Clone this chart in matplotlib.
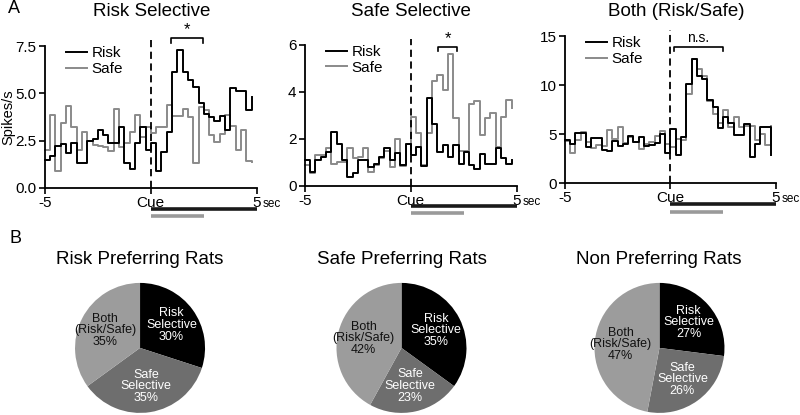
import numpy as np
import matplotlib
matplotlib.use('Agg')
import matplotlib.pyplot as plt

plt.rcParams['font.family'] = ['Liberation Sans', 'DejaVu Sans']
plt.rcParams['axes.unicode_minus'] = False

# PSTH bins: 0.25 s, left edges from -5 s to 4.75 s
bin_width = 0.25
t_start = -5
n_bins = 40
bin_left = t_start + bin_width * np.arange(n_bins)

# A - Risk selective neuron (spikes/s)
risk_sel_risk = [1.5, 1.7, 2.2, 2.3, 1.85, 2.4, 1.3, 1.3, 2.5, 2.6, 3.05, 2.8, 2.4, 2.4, 3.2, 1.3, 1.0, 2.4, 3.2, 2.0,
                 2.4, 0.9, 1.9, 2.95, 6.15, 7.3, 6.15, 5.7, 5.35, 4.5, 3.9, 3.75, 3.55, 3.8, 3.05, 5.3, 5.1, 5.1, 4.1, 4.8]
risk_sel_safe = [2.0, 3.85, 0.9, 3.45, 4.35, 3.2, 2.0, 2.95, 2.5, 2.25, 2.2, 2.15, 1.95, 4.2, 2.15, 2.4, 2.95, 3.85, 2.7, 3.2,
                 2.9, 3.2, 3.2, 4.4, 3.8, 3.8, 4.2, 3.75, 1.3, 4.3, 4.1, 2.8, 2.45, 2.85, 3.85, 3.25, 2.0, 3.05, 1.45, 1.35]

# Safe selective neuron
safe_sel_risk = [1.1, 0.6, 1.1, 1.25, 1.45, 2.3, 1.8, 1.1, 0.4, 0.55, 1.1, 1.1, 0.8, 0.95, 1.25, 1.6, 1.1, 1.4, 0.9, 1.8,
                 1.3, 1.65, 0.85, 3.75, 2.65, 1.45, 1.75, 1.25, 1.75, 0.95, 1.45, 0.9, 0.7, 1.35, 0.95, 0.95, 1.6, 1.2, 0.95, 1.1]
safe_sel_safe = [0.9, 0.55, 1.3, 1.3, 1.6, 0.95, 1.0, 1.0, 1.6, 1.2, 1.25, 1.6, 0.6, 0.9, 1.2, 1.5, 0.8, 2.0, 0.85, 1.8,
                 2.95, 2.25, 0.9, 2.25, 4.45, 4.7, 4.1, 5.6, 2.9, 1.5, 1.5, 3.5, 3.6, 2.15, 2.9, 3.1, 1.65, 2.95, 3.65, 3.3]

# Both (risk/safe) neuron
both_risk = [4.35, 4.0, 5.15, 5.15, 3.7, 4.55, 4.55, 3.35, 3.3, 4.3, 3.8, 3.95, 4.8, 4.2, 4.7, 3.75, 3.85, 4.1, 5.05, 3.05,
             5.55, 2.85, 4.7, 10.1, 12.7, 10.9, 10.6, 8.45, 7.8, 5.65, 6.75, 6.1, 4.9, 4.9, 6.05, 2.65, 4.0, 5.75, 5.75, 2.85]
both_safe = [4.3, 3.1, 4.4, 5.2, 4.2, 3.6, 3.9, 3.8, 5.4, 4.5, 5.7, 4.1, 4.7, 4.2, 3.5, 4.0, 4.2, 4.8, 5.3, 4.0,
             3.7, 4.5, 4.4, 9.1, 12.7, 11.6, 10.9, 8.4, 7.0, 6.1, 7.5, 5.7, 6.7, 5.7, 5.8, 5.8, 4.4, 5.0, 3.9, 5.8]

psth_titles = ['Risk Selective', 'Safe Selective', 'Both (Risk/Safe)']
psth_ylim = [7.5, 6, 15]
psth_yticks = [[0, 2.5, 5, 7.5], [0, 2, 4, 6], [0, 5, 10, 15]]
psth_yticklabels = [['0.0', '2.5', '5.0', '7.5'], ['0', '2', '4', '6'], ['0', '5', '10', '15']]
sig_window = [(0.95, 2.45), (1.3, 2.2), (0.15, 2.5)]
sig_level = [7.9, 5.9, 13.9]
sig_text = ['*', '*', 'n.s.']
epoch_cue = (0, 5)
epoch_test = (0, 2.5)

# B - proportion of neuron types
pie_titles = ['Risk Preferring Rats', 'Safe Preferring Rats', 'Non Preferring Rats']
pie_names = ['Risk\nSelective', 'Safe\nSelective', 'Both\n(Risk/Safe)']
pie_pct = [[30, 35, 35], [35, 23, 42], [27, 26, 47]]
pie_colors = ['#000000', '#6e6e6e', '#9c9c9c']
pie_text_colors = ['white', 'white', '#111111']

risk_color = '#000000'
safe_color = '#8a8a8a'

fig = plt.figure(figsize=(8, 4.15), dpi=100)

# axes rectangles (figure fraction)
psth_rects = [[0.056, 0.547, 0.265, 0.342],
              [0.381, 0.552, 0.265, 0.340],
              [0.706, 0.559, 0.264, 0.354]]
psth_data = [(risk_sel_risk, risk_sel_safe), (safe_sel_risk, safe_sel_safe), (both_risk, both_safe)]
title_x = [0.189, 0.514, 0.845]

for i in range(3):
    ax = fig.add_axes(psth_rects[i])
    r, s = psth_data[i]
    ax.plot(bin_left, s, drawstyle='steps-post', color=safe_color, lw=1.4, label='Safe', clip_on=False)
    ax.plot(bin_left, r, drawstyle='steps-post', color=risk_color, lw=1.4, label='Risk', clip_on=False)
    ax.axvline(0, ymin=0, ymax=1.04, color='black', lw=1.3, ls=(0, (4, 2.5)), clip_on=False)
    ax.set_xlim(-5, 5)
    ax.set_ylim(0, psth_ylim[i])
    ax.set_xticks([-5, 0, 5])
    ax.set_xticklabels(['-5', 'Cue', '5'])
    ax.set_yticks(psth_yticks[i])
    ax.set_yticklabels(psth_yticklabels[i])
    ax.tick_params(labelsize=11, length=4, width=1.2, pad=2)
    for side in ['top', 'right']:
        ax.spines[side].set_visible(False)
    for side in ['left', 'bottom']:
        ax.spines[side].set_linewidth(1.3)
    ax.annotate('sec', xy=(5, 0), xytext=(4, -14), textcoords='offset points',
                ha='left', va='baseline', fontsize=8.5, annotation_clip=False)

    # legend, reorder so Risk is first
    h, l = ax.get_legend_handles_labels()
    ax.legend(h[::-1], l[::-1], loc='upper left', bbox_to_anchor=(0.07, 1.04), frameon=False,
              fontsize=11, handlelength=1.4, handletextpad=0.3, labelspacing=0.1, borderaxespad=0)

    # significance bracket
    x0, x1 = sig_window[i]
    y = sig_level[i]
    tick = psth_ylim[i] * 0.03
    ax.plot([x0, x0, x1, x1], [y - tick, y, y, y - tick], color='black', lw=1.2, clip_on=False)
    ax.text((x0 + x1) / 2, y + psth_ylim[i] * 0.01, sig_text[i], ha='center', va='bottom',
            fontsize=12 if sig_text[i] == '*' else 10)

    # epoch bars under the axis
    trans = ax.get_xaxis_transform()
    ax.plot(epoch_cue, [-0.145, -0.145], transform=trans, color='#1a1a1a', lw=2.6,
            solid_capstyle='butt', clip_on=False)
    ax.plot(epoch_test, [-0.195, -0.195], transform=trans, color='#9a9a9a', lw=2.6,
            solid_capstyle='butt', clip_on=False)

    fig.text(title_x[i], 0.962, psth_titles[i], ha='center', va='baseline', fontsize=13.5)
    if i == 0:
        ax.set_ylabel('Spikes/s', fontsize=10.5)
        ax.yaxis.set_label_coords(-0.14, 0.5)

fig.text(0.01, 0.968, 'A', fontsize=13, va='baseline')
fig.text(0.012, 0.415, 'B', fontsize=13, va='baseline')

# pies
pie_rects = [[0.0938, 0.005, 0.1625, 0.3133],
             [0.4206, 0.005, 0.1625, 0.3133],
             [0.7431, 0.005, 0.1625, 0.3133]]
pie_title_x = [0.174, 0.502, 0.824]
for i in range(3):
    ax = fig.add_axes(pie_rects[i])
    labels = [pie_names[k] + '\n' + str(pie_pct[i][k]) + '%' for k in range(3)]
    wedges, texts = ax.pie(pie_pct[i], colors=pie_colors, startangle=90, counterclock=False,
                           labels=labels, labeldistance=0.6,
                           textprops={'fontsize': 9, 'ha': 'center', 'va': 'center',
                                      'linespacing': 0.95})
    for t, c in zip(texts, pie_text_colors):
        t.set_color(c)
        t.set_multialignment('center')
    ax.set_xlim(-1, 1)
    ax.set_ylim(-1, 1)
    fig.text(pie_title_x[i], 0.364, pie_titles[i], ha='center', va='baseline', fontsize=13.5)

plt.savefig('out.png', dpi=100)
